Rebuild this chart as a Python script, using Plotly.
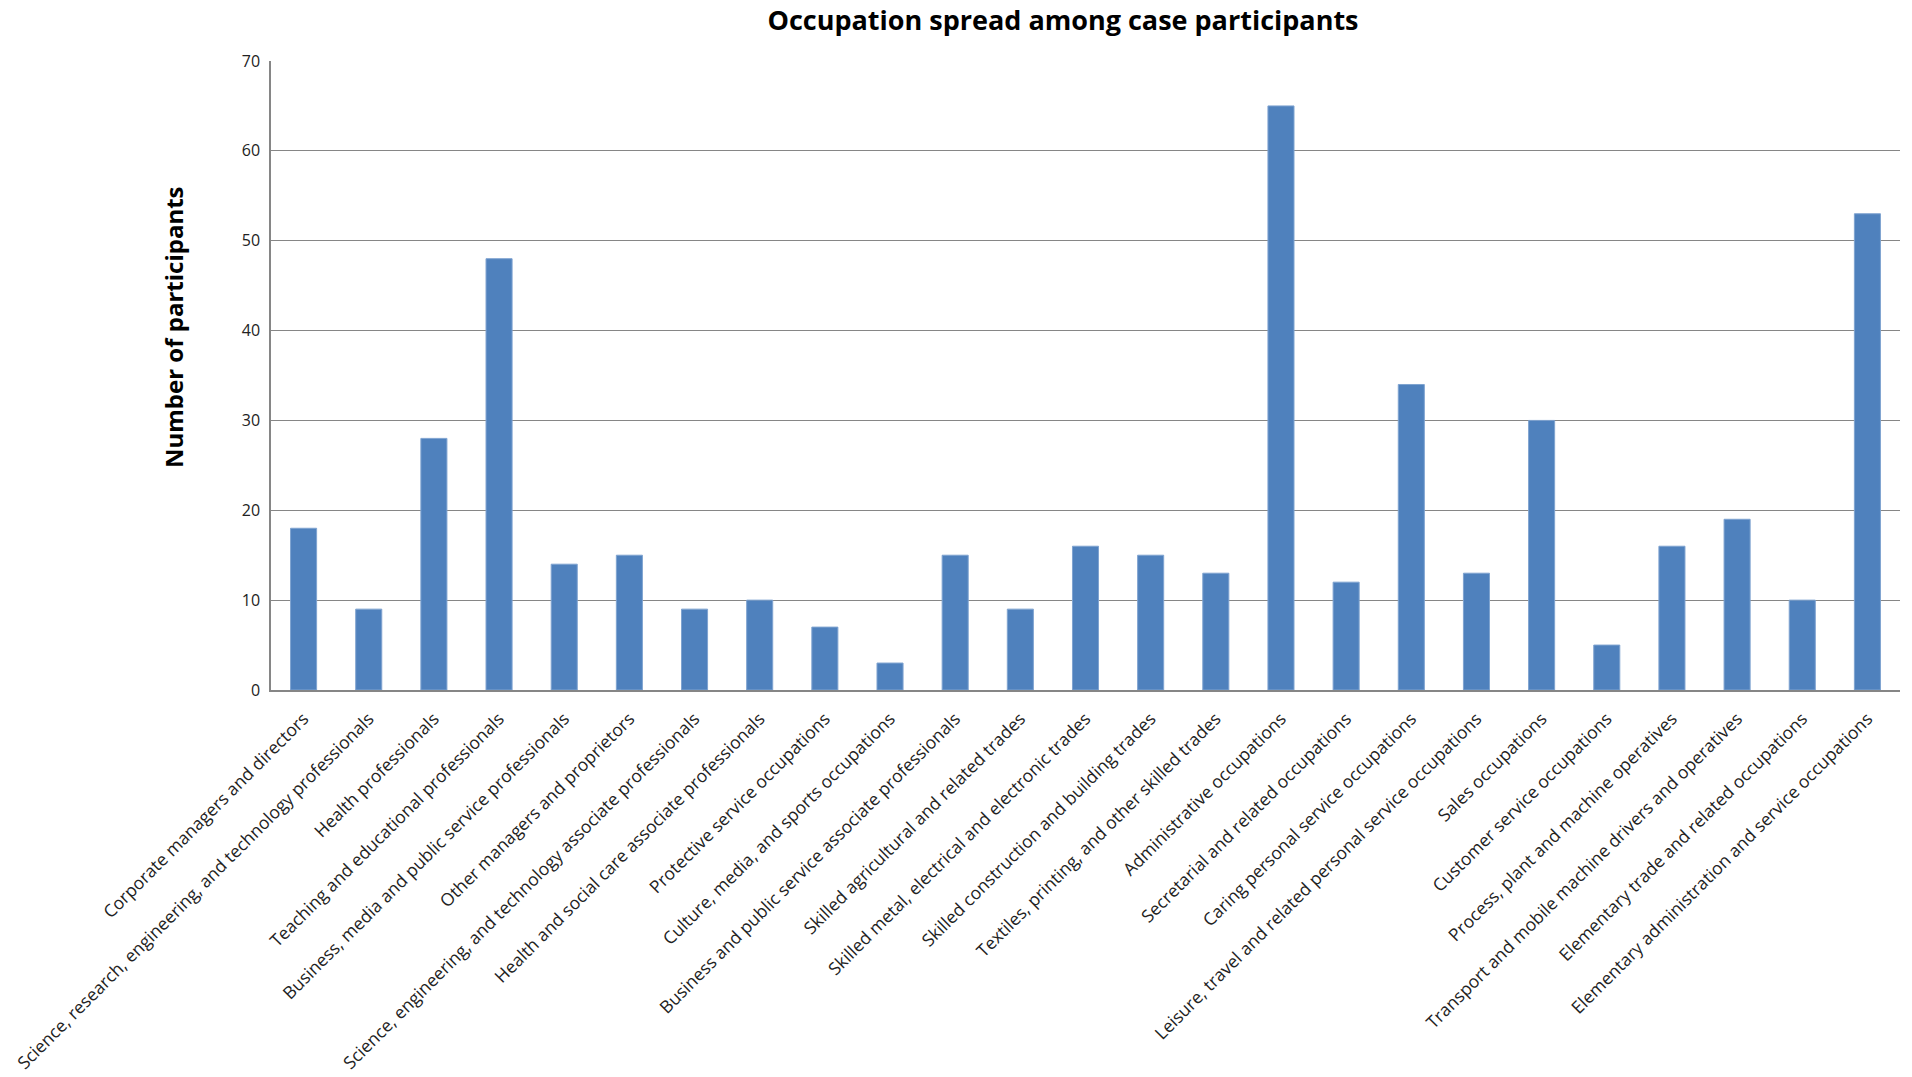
import plotly.graph_objects as go

# Occupation categories and participant counts
occupations = [
    "Corporate managers and directors",
    "Science, research, engineering, and technology professionals",
    "Health professionals",
    "Teaching and educational professionals",
    "Business, media and public service professionals",
    "Other managers and proprietors",
    "Science, engineering, and technology associate professionals",
    "Health and social care associate professionals",
    "Protective service occupations",
    "Culture, media, and sports occupations",
    "Business and public service associate professionals",
    "Skilled agricultural and related trades",
    "Skilled metal, electrical and electronic trades",
    "Skilled construction and building trades",
    "Textiles, printing, and other skilled trades",
    "Administrative occupations",
    "Secretarial and related occupations",
    "Caring personal service occupations",
    "Leisure, travel and related personal service occupations",
    "Sales occupations",
    "Customer service occupations",
    "Process, plant and machine operatives",
    "Transport and mobile machine drivers and operatives",
    "Elementary trade and related occupations",
    "Elementary administration and service occupations",
]
participants = [18, 9, 28, 48, 14, 15, 9, 10, 7, 3, 15, 9, 16, 15, 13,
                65, 12, 34, 13, 30, 5, 16, 19, 10, 53]
y_ticks = [0, 10, 20, 30, 40, 50, 60, 70]

FONT = "Open Sans"
W, H = 1912, 1077
L, R, T, B = 271, 12, 61, 387

fig = go.Figure(
    go.Bar(
        x=occupations,
        y=participants,
        marker=dict(color="#4F81BD", line=dict(color="#7FA3D0", width=1)),
        hoverinfo="x+y",
    )
)

fig.update_layout(
    width=W,
    height=H,
    margin=dict(l=L, r=R, t=T, b=B, autoexpand=False),
    paper_bgcolor="white",
    plot_bgcolor="white",
    bargap=0.6,
    showlegend=False,
    font=dict(family=FONT, color="#222222"),
    title=dict(
        text="<b>Occupation spread among case participants</b>",
        x=1063 / W,
        xanchor="center",
        y=1 - 21 / H,
        yanchor="middle",
        font=dict(family=FONT, size=27, color="#000000"),
    ),
)

fig.update_xaxes(
    tickangle=-45,
    tickfont=dict(family=FONT, size=17.5, color="#222222"),
    showline=True,
    linecolor="#868686",
    linewidth=1.5,
    showgrid=False,
    ticks="",
    ticklabelstandoff=10,
)

fig.update_yaxes(
    range=[0, 70],
    tickvals=y_ticks,
    tickfont=dict(family=FONT, size=16, color="#222222"),
    showline=True,
    linecolor="#868686",
    linewidth=1.5,
    showgrid=True,
    gridcolor="#868686",
    gridwidth=1,
    zeroline=False,
    ticks="",
    ticklen=0,
    ticklabelstandoff=6,
)

# Vertical axis title
fig.add_annotation(
    text="<b>Number of participants</b>",
    xref="paper",
    yref="paper",
    x=(173 - L) / (W - L - R),
    y=(H - B - 327) / (H - B - T),
    xanchor="center",
    yanchor="middle",
    textangle=-90,
    showarrow=False,
    font=dict(family=FONT, size=24, color="#000000"),
)

fig.write_html("out.html")
